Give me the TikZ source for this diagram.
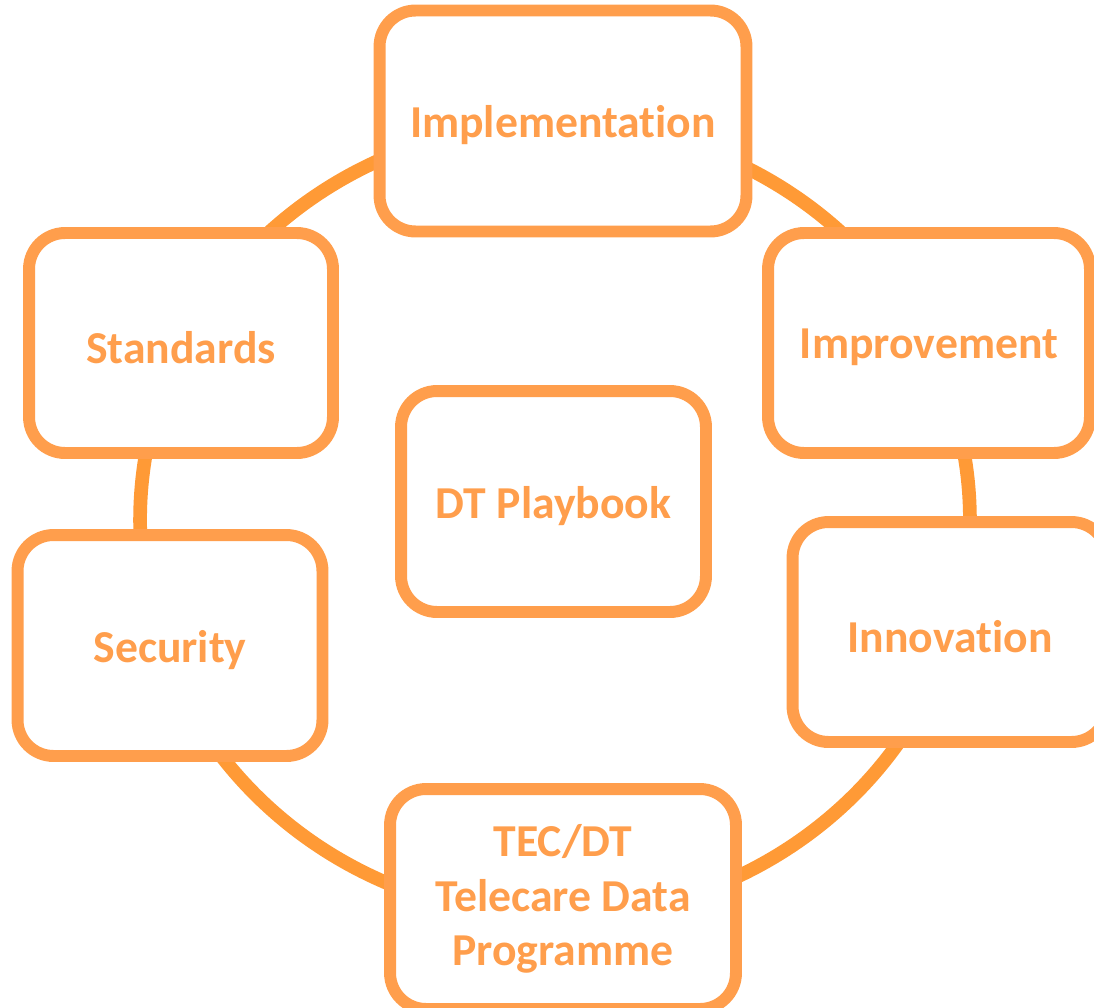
\documentclass[tikz,border=0pt]{standalone}
\usepackage{fontspec}
\setmainfont{Carlito}[Ligatures=NoCommon]
\usetikzlibrary{shapes.geometric}
\definecolor{boxorange}{HTML}{FF9E4C}
\definecolor{ringorange}{HTML}{FF9A36}
\newcommand{\lowtext}[1]{\raisebox{-0.09cm}[\height][\depth]{#1}}
\tikzset{
  cyclebox/.style={draw=boxorange, line width=6.8pt, fill=white, rectangle,
    rounded corners=0.72cm, text=boxorange, align=center,
    font=\bfseries\fontsize{26}{31}\selectfont, inner sep=0pt},
  ringstyle/.style={draw=ringorange, line width=7.8pt, ellipse, inner sep=0pt}
}
\begin{document}
\begin{tikzpicture}[x=0.02cm, y=-0.02cm]
\useasboundingbox (0,0) rectangle (1094,1007);
\node[ringstyle, minimum width=16.6cm, minimum height=15.88cm] (ring) at (555,520) {};
\node[cyclebox, minimum width=7.34cm, minimum height=4.42cm] (impl) at (563,121) {\lowtext{Implementation}};
\node[cyclebox, minimum width=6.08cm, minimum height=4.40cm] (std) at (181,343) {\lowtext{Standards}};
\node[cyclebox, minimum width=6.44cm, minimum height=4.40cm] (imp) at (929,343) {\lowtext{Improvement}};
\node[cyclebox, minimum width=6.30cm, minimum height=4.40cm] (inn) at (950,632) {\lowtext{Innovation}};
\node[cyclebox, minimum width=6.10cm, minimum height=4.42cm] (sec) at (170,645.5) {\lowtext{Security}};
\node[cyclebox, minimum width=6.10cm, minimum height=4.42cm] (play) at (553.5,501.5) {\lowtext{DT Playbook}};
\node[cyclebox, minimum width=6.92cm, minimum height=4.40cm] (tec) at (563,899) {TEC/DT\\Telecare Data\\Programme};
\end{tikzpicture}
\end{document}
